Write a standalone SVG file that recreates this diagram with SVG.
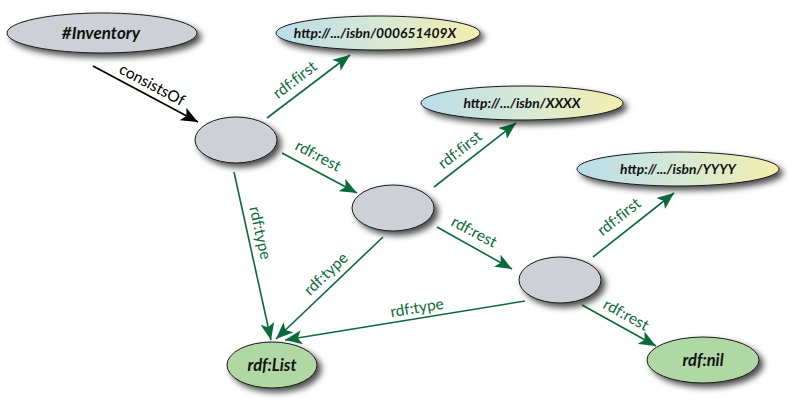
<svg xmlns="http://www.w3.org/2000/svg" width="800" height="408" viewBox="0 0 800 408">
<defs>
<style>
.node{stroke:#1a1a1a;stroke-width:1;filter:url(#sh)}
.blank{fill:#cdd0d4}
.cls{fill:#b0d8a4}
.uri{fill:url(#grad)}
.nt{font-family:Lato,"Liberation Sans",sans-serif;font-weight:bold;font-style:italic;fill:#111;text-anchor:middle}
.e{stroke:#0a6b3a;stroke-width:1.6;fill:none;marker-end:url(#ga)}
.k{stroke:#000;stroke-width:1.6;fill:none;marker-end:url(#ka)}
.el{font-family:Lato,"Open Sans",sans-serif;font-size:15.5px;fill:#0a6b3a;text-anchor:middle;font-variant-ligatures:none;font-feature-settings:"liga" 0}
.kl{font-family:Lato,"Open Sans",sans-serif;font-size:15.5px;fill:#000;text-anchor:middle}
</style>
<linearGradient id="grad" x1="0" y1="0" x2="1" y2="0">
<stop offset="0" stop-color="#b9dde9"/>
<stop offset="0.5" stop-color="#d6e8d6"/>
<stop offset="1" stop-color="#f3efae"/>
</linearGradient>
<filter id="sh" x="-20%" y="-30%" width="150%" height="180%">
<feDropShadow dx="4" dy="4" stdDeviation="3" flood-color="#000" flood-opacity="0.7"/>
</filter>
<marker id="ga" markerUnits="userSpaceOnUse" markerWidth="18" markerHeight="14" viewBox="0 0 18 14" refX="17" refY="7" orient="auto">
<path d="M0,0 L17,7 L0,14 L4,7 z" fill="#0a6b3a"/>
</marker>
<marker id="ka" markerUnits="userSpaceOnUse" markerWidth="18" markerHeight="14" viewBox="0 0 18 14" refX="17" refY="7" orient="auto">
<path d="M0,0 L17,7 L0,14 L4,7 z" fill="#000"/>
</marker>
</defs>
<rect width="800" height="408" fill="#fff"/>
<g id="connectors">
<line class="k" x1="93" y1="66" x2="198" y2="122"/>
<text class="kl" transform="translate(152,85) rotate(28)" dy="5">consistsOf</text>
<line class="e" x1="267" y1="118" x2="350" y2="55"/>
<text class="el" transform="translate(295,80) rotate(-37.5)" dy="5">rdf:first</text>
<line class="e" x1="282" y1="153" x2="357" y2="193"/>
<text class="el" transform="translate(318,156) rotate(28)" dy="5">rdf:rest</text>
<line class="e" x1="234" y1="172" x2="271" y2="340"/>
<text class="el" transform="translate(260,233) rotate(77.6)" dy="5">rdf:type</text>
<line class="e" x1="434" y1="187" x2="516" y2="123"/>
<text class="el" transform="translate(460,150) rotate(-38)" dy="5">rdf:first</text>
<line class="e" x1="437" y1="227" x2="512" y2="269"/>
<text class="el" transform="translate(474,232) rotate(28)" dy="5">rdf:rest</text>
<line class="e" x1="383" y1="237" x2="276" y2="339"/>
<text class="el" transform="translate(326,274) rotate(-43.5)" dy="5">rdf:type</text>
<line class="e" x1="593" y1="257" x2="674" y2="193"/>
<text class="el" transform="translate(619,217) rotate(-38.5)" dy="5">rdf:first</text>
<line class="e" x1="525" y1="301" x2="285" y2="340"/>
<text class="el" transform="translate(417,308) rotate(-9.2)" dy="5">rdf:type</text>
<line class="e" x1="582" y1="305" x2="656" y2="346"/>
<text class="el" transform="translate(626,315) rotate(29)" dy="5">rdf:rest</text>
</g>
<g id="inventory">
<ellipse class="node blank" cx="102" cy="33" rx="95" ry="20"/>
<text class="nt" x="101" y="39" font-size="17">#Inventory</text>
</g>
<g id="isbn1">
<ellipse class="node uri" cx="378" cy="33" rx="102" ry="17"/>
<text class="nt" x="375" y="38" font-size="13.8">http://.../isbn/000651409X</text>
</g>
<g id="isbnX">
<ellipse class="node uri" cx="522" cy="103" rx="101" ry="17"/>
<text class="nt" x="522" y="108" font-size="13.8">http://.../isbn/XXXX</text>
</g>
<g id="isbnY">
<ellipse class="node uri" cx="678" cy="169" rx="101" ry="17"/>
<text class="nt" x="678" y="174" font-size="13.8">http://.../isbn/YYYY</text>
</g>
<g id="b1">
<ellipse class="node blank" cx="236" cy="140" rx="41" ry="23"/>
</g>
<g id="b2">
<ellipse class="node blank" cx="393" cy="208" rx="41" ry="23"/>
</g>
<g id="b3">
<ellipse class="node blank" cx="560" cy="280" rx="41" ry="23"/>
</g>
<g id="list">
<ellipse class="node cls" cx="272" cy="365" rx="45" ry="23"/>
<text class="nt" x="272" y="371" font-size="16.5">rdf:List</text>
</g>
<g id="nil">
<ellipse class="node cls" cx="703" cy="360" rx="56" ry="23"/>
<text class="nt" x="703" y="366" font-size="16.5">rdf:nil</text>
</g>
</svg>
